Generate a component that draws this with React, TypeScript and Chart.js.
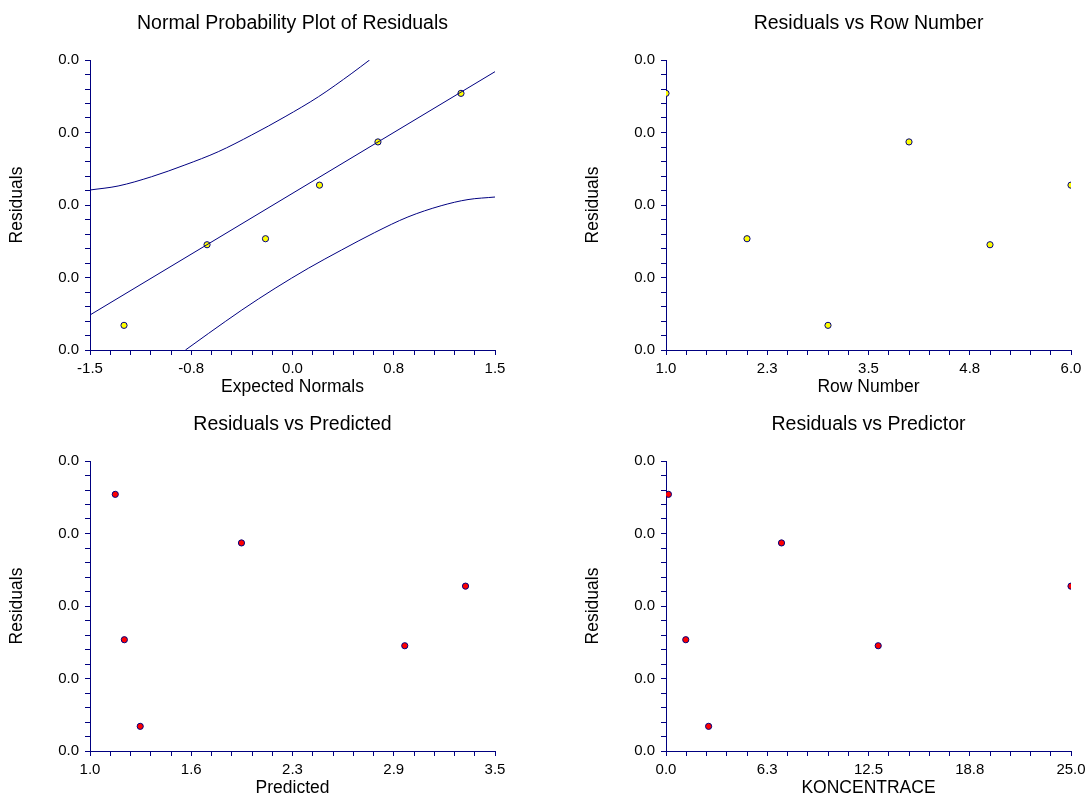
import React, { useEffect, useRef } from 'react';
import { Chart, registerables } from 'chart.js';

Chart.register(...registerables);

// ---------------- data ----------------
const ROW_NUMBERS = [1, 2, 3, 4, 5, 6];
const RESIDUALS = [0.0354, 0.01535, 0.0034, 0.0287, 0.01452, 0.02274];
const PREDICTED = [1.156, 1.212, 1.31, 1.935, 2.943, 3.318];
const KONCENTRACE = [0.15, 1.22, 2.63, 7.13, 13.1, 25.0];
const EXPECTED_NORMALS = [-1.248, -0.633, -0.2, 0.2, 0.633, 1.248];

const FIT_LINE_X = [-1.5, 1.5];
const FIT_LINE_Y = [0.00483, 0.03839];
const UPPER_BAND_X = [-1.5, -1.292, -1.044, -0.797, -0.55, -0.302, -0.055, 0.193, 0.44, 0.571];
const UPPER_BAND_Y = [0.02207, 0.02262, 0.0239, 0.02552, 0.02735, 0.02966, 0.03218, 0.03494, 0.03817, 0.04];
const LOWER_BAND_X = [-0.793, -0.621, -0.375, -0.129, 0.117, 0.363, 0.609, 0.855, 1.101, 1.3, 1.5];
const LOWER_BAND_Y = [0.0, 0.0023, 0.00552, 0.00851, 0.01127, 0.01379, 0.0162, 0.01835, 0.0199, 0.02075, 0.0211];

const RESIDUAL_RANGE = [0, 0.04];
const NORMAL_RANGE = [-1.5, 1.5];
const ROW_RANGE = [1, 6];
const PREDICTED_RANGE = [1, 3.5];
const KONC_RANGE = [0, 25];

const RESIDUAL_TICKS = ['0.0', '0.0', '0.0', '0.0', '0.0'];
const NORMAL_TICKS = ['-1.5', '-0.8', '0.0', '0.8', '1.5'];
const ROW_TICKS = ['1.0', '2.3', '3.5', '4.8', '6.0'];
const PREDICTED_TICKS = ['1.0', '1.6', '2.3', '2.9', '3.5'];
const KONC_TICKS = ['0.0', '6.3', '12.5', '18.8', '25.0'];

// ---------------- style ----------------
const FONT = '"Liberation Sans", Arial, Helvetica, sans-serif';
const NAVY = '#000080';
const MINOR_PER_MAJOR = 5;
const CANVAS_W = 540;
const CANVAS_H = 398;

function pts(xs: number[], ys: number[]) {
  return xs.map((x, i) => ({ x, y: ys[i] }));
}

function axis(kind: 'x' | 'y', range: number[], labels: string[], title: string) {
  const intervals = (labels.length - 1) * MINOR_PER_MAJOR;
  return {
    type: 'linear',
    position: kind === 'x' ? 'bottom' : 'left',
    min: range[0],
    max: range[1],
    afterBuildTicks: (scale: any) => {
      const t = [];
      for (let i = 0; i <= intervals; i++) {
        t.push({ value: range[0] + ((range[1] - range[0]) * i) / intervals });
      }
      scale.ticks = t;
    },
    afterFit: (scale: any) => {
      if (kind === 'x') scale.height = 48;
      else scale.width = 90;
    },
    ticks: {
      autoSkip: false,
      maxRotation: 0,
      minRotation: 0,
      padding: kind === 'x' ? 5.3 : 6,
      color: '#000',
      font: { family: FONT, size: 15 },
      callback: (_v: any, index: number) =>
        index % MINOR_PER_MAJOR === 0 ? labels[index / MINOR_PER_MAJOR] : '',
    },
    grid: {
      drawOnChartArea: false,
      drawTicks: true,
      tickLength: 5,
      color: NAVY,
      lineWidth: 1,
    },
    border: { display: true, color: NAVY, width: 1 },
    title: {
      display: true,
      text: title,
      color: '#000',
      font: { family: FONT, size: 17.5 },
      padding: kind === 'x' ? { top: 0, bottom: 0 } : { top: 6.8, bottom: 0 },
    },
  };
}

function baseOptions(title: string, xAxis: any, yAxis: any) {
  return {
    responsive: false,
    animation: false,
    events: [],
    layout: { padding: { left: 0, right: CANVAS_W - 495, top: 0, bottom: 0 } },
    plugins: {
      legend: { display: false },
      tooltip: { enabled: false },
      title: {
        display: true,
        text: title,
        fullSize: false,
        color: '#000',
        font: { family: FONT, size: 19.5, weight: 'normal' },
        padding: { top: 11.6, bottom: 25 },
      },
    },
    scales: { x: xAxis, y: yAxis },
  };
}

function lineDs(xs: number[], ys: number[]) {
  return {
    type: 'scatter',
    data: pts(xs, ys),
    showLine: true,
    borderColor: NAVY,
    borderWidth: 1,
    pointRadius: 0,
    fill: false,
    cubicInterpolationMode: 'monotone',
  };
}

function pointDs(xs: number[], ys: number[], fillColor: string) {
  return {
    type: 'scatter',
    data: pts(xs, ys),
    pointRadius: 3.1,
    pointBackgroundColor: fillColor,
    pointBorderColor: NAVY,
    pointBorderWidth: 1,
    showLine: false,
  };
}

const SORTED_RESIDUALS = [...RESIDUALS].sort((a, b) => a - b);

function normalConfig() {
  return {
    type: 'scatter',
    data: {
      datasets: [
        lineDs(FIT_LINE_X, FIT_LINE_Y),
        lineDs(UPPER_BAND_X, UPPER_BAND_Y),
        lineDs(LOWER_BAND_X, LOWER_BAND_Y),
        pointDs(EXPECTED_NORMALS, SORTED_RESIDUALS, '#FFFF00'),
      ],
    },
    options: baseOptions(
      'Normal Probability Plot of Residuals',
      axis('x', NORMAL_RANGE, NORMAL_TICKS, 'Expected Normals'),
      axis('y', RESIDUAL_RANGE, RESIDUAL_TICKS, 'Residuals')
    ),
  };
}

function rowConfig() {
  return {
    type: 'scatter',
    data: { datasets: [pointDs(ROW_NUMBERS, RESIDUALS, '#FFFF00')] },
    options: baseOptions(
      'Residuals vs Row Number',
      axis('x', ROW_RANGE, ROW_TICKS, 'Row Number'),
      axis('y', RESIDUAL_RANGE, RESIDUAL_TICKS, 'Residuals')
    ),
  };
}

function predictedConfig() {
  return {
    type: 'scatter',
    data: { datasets: [pointDs(PREDICTED, RESIDUALS, '#FF0000')] },
    options: baseOptions(
      'Residuals vs Predicted',
      axis('x', PREDICTED_RANGE, PREDICTED_TICKS, 'Predicted'),
      axis('y', RESIDUAL_RANGE, RESIDUAL_TICKS, 'Residuals')
    ),
  };
}

function predictorConfig() {
  return {
    type: 'scatter',
    data: { datasets: [pointDs(KONCENTRACE, RESIDUALS, '#FF0000')] },
    options: baseOptions(
      'Residuals vs Predictor',
      axis('x', KONC_RANGE, KONC_TICKS, 'KONCENTRACE'),
      axis('y', RESIDUAL_RANGE, RESIDUAL_TICKS, 'Residuals')
    ),
  };
}

function Panel({ left, top, make }: { left: number; top: number; make: () => any }) {
  const ref = useRef<HTMLCanvasElement | null>(null);
  useEffect(() => {
    if (!ref.current) return;
    const chart = new Chart(ref.current, make());
    return () => chart.destroy();
  }, [make]);
  return (
    <canvas
      ref={ref}
      width={CANVAS_W}
      height={CANVAS_H}
      style={{ position: 'absolute', left, top, width: CANVAS_W, height: CANVAS_H }}
    />
  );
}

export default function App() {
  return (
    <div
      style={{
        position: 'fixed',
        left: 0,
        top: 0,
        width: 1086,
        height: 796,
        overflow: 'hidden',
        background: '#fff',
      }}
    >
      <Panel left={0} top={0} make={normalConfig} />
      <Panel left={576} top={0} make={rowConfig} />
      <Panel left={0} top={401} make={predictedConfig} />
      <Panel left={576} top={401} make={predictorConfig} />
    </div>
  );
}
